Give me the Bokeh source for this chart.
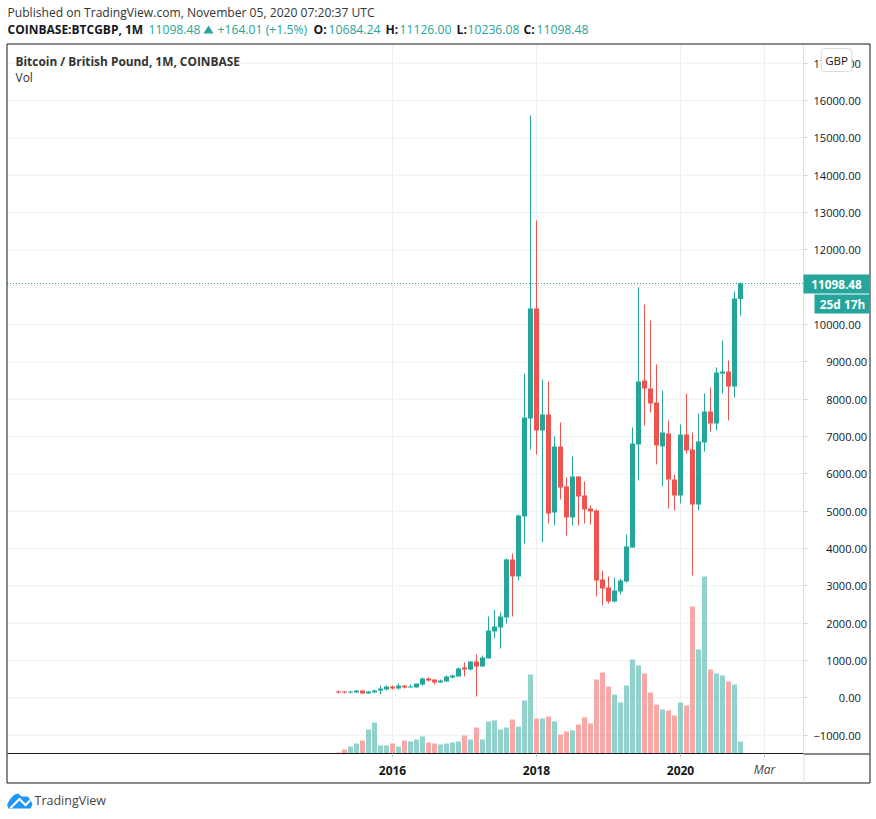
from bokeh.embed import file_html
from bokeh.resources import INLINE
from bokeh.plotting import figure
from bokeh.models import (ColumnDataSource, FixedTicker, Label, BoxAnnotation,
                          PolyAnnotation, LinearAxis, Range1d)

months = ["2015-04","2015-05","2015-06","2015-07","2015-08","2015-09","2015-10","2015-11","2015-12",
          "2016-01","2016-02","2016-03","2016-04","2016-05","2016-06","2016-07","2016-08","2016-09","2016-10","2016-11","2016-12",
          "2017-01","2017-02","2017-03","2017-04","2017-05","2017-06","2017-07","2017-08","2017-09","2017-10","2017-11","2017-12",
          "2018-01","2018-02","2018-03","2018-04","2018-05","2018-06","2018-07","2018-08","2018-09","2018-10","2018-11","2018-12",
          "2019-01","2019-02","2019-03","2019-04","2019-05","2019-06","2019-07","2019-08","2019-09","2019-10","2019-11","2019-12",
          "2020-01","2020-02","2020-03","2020-04","2020-05","2020-06","2020-07","2020-08","2020-09","2020-10","2020-11"]
opens = [169,169,142,142,195,115,142,195,222,
         303,249,329,276,276,356,517,490,410,436,544,570,
         812,758,972,838,1053,1776,1883,2151,3705,3250,4857,7482,
         10430,7161,7590,4964,6732,5661,4830,5929,5420,5071,5018,3169,
         2954,2579,2847,3115,4026,6786,8500,8286,7911,6732,7080,5848,
         5419,7053,6652,5178,6839,7670,7348,8687,8741,8339,10684]
highs = [195,178,178,195,195,178,222,329,329,
         329,383,329,356,383,544,544,490,490,597,624,812,
         946,972,1160,1133,2178,2365,2285,3732,3866,4911,8688,15600,
         12787,8527,8474,7000,7375,5902,6464,5929,5795,5152,5045,3410,
         3249,3222,3195,4374,7241,10992,10536,10107,8929,8232,7428,5982,
         7321,8152,7107,7616,8152,8313,8848,9572,9036,10884,11126]
lows = [115,115,115,142,115,115,142,88,195,
        222,222,249,276,276,329,436,356,410,436,517,570,
        570,731,35,838,1053,1589,1321,1990,2178,3142,4134,6652,
        6518,4160,4670,4616,5313,4348,4616,4616,4670,4643,2713,2472,
        2526,2552,2767,3088,4026,5821,7295,7643,6250,5660,5071,5017,
        5205,6544,3276,5017,6598,7134,7161,8152,7428,8045,10236]
closes = [142,142,169,195,115,169,195,249,303,
          249,329,276,303,383,517,463,410,463,570,597,785,
          758,972,838,1080,1803,1910,2178,3705,3250,4884,7509,10430,
          7161,7590,4937,6732,5634,4830,5929,5393,5044,4991,3142,2928,
          2579,2874,3142,4053,6812,8473,8286,7884,6759,7107,5848,5419,
          7053,6625,5178,6866,7670,7348,8714,8741,8339,10697,11098.48]
volumes = [100,400,700,1000,1300,2400,3100,800,800,
           1000,700,1300,1200,1400,1700,1100,1000,900,1000,1100,1200,
           1800,1400,2600,1400,3200,3300,2400,2600,3400,2700,5300,7900,
           3500,3500,3700,3200,1900,2200,2300,2900,3600,3000,7400,8100,
           6700,5900,5100,6800,9400,8800,8000,6100,4900,4400,4300,3800,
           5100,4800,14700,10400,17700,8400,8000,7800,7200,6900,1200]
price_ticks = [-1000,0,1000,2000,3000,4000,5000,6000,7000,8000,9000,10000,11000,12000,13000,14000,15000,16000,17000]
price_labels = ["\u22121000.00","\u2007\u2007\u2007\u20070.00","\u2007\u20071000.00","\u2007\u20072000.00","\u2007\u20073000.00",
                "\u2007\u20074000.00","\u2007\u20075000.00","\u2007\u20076000.00","\u2007\u20077000.00","\u2007\u20078000.00",
                "\u2007\u20079000.00","10000.00","11000.00","12000.00","13000.00","14000.00","15000.00","16000.00","17000.00"]
time_ticks = [0, 24, 48, 62]
time_labels = ["2016", "2018", "2020", " "]

UP = "#26a69a"
DOWN = "#ef5350"
INK = "#131722"
GRID = "#f0f0f0"
FONT = "Open Sans"

# visible price pane, in data units of the two scales
PANE_X = (-64.25, 68.5)
PANE_Y = (-1505, 17502)

idx = [(int(m[:4]) - 2016) * 12 + int(m[5:]) - 1 for m in months]
up = [c >= o for o, c in zip(opens, closes)]
src = ColumnDataSource(dict(x=idx, o=opens, h=highs, l=lows, c=closes, v=volumes,
                            bottom=[min(a, b) for a, b in zip(opens, closes)],
                            top=[max(a, b) for a, b in zip(opens, closes)],
                            color=[UP if u else DOWN for u in up]))

p = figure(width=872, height=811, x_axis_type=None, y_axis_type=None,
           x_range=Range1d(-392.0 / 6, (872 - 392.0) / 6),
           y_range=Range1d((697.3 - 811) * 26.788, 697.3 * 26.788),
           output_backend="svg", toolbar_location=None,
           min_border_left=0, min_border_right=0, min_border_top=0, min_border_bottom=0)
p.styles = {"position": "absolute", "left": "0px", "top": "0px"}
p.outline_line_color = None
p.extra_y_ranges = {"vol": Range1d(-5800, 75300)}

xa = LinearAxis(ticker=FixedTicker(ticks=time_ticks), fixed_location=PANE_Y[0], bounds=PANE_X)
xa.major_label_overrides = dict(zip(time_ticks, time_labels))
xa.major_tick_out = 4
xa.major_tick_in = 0
xa.minor_tick_line_color = None
xa.axis_line_color = INK
xa.major_tick_line_color = "#c8c8c8"
xa.major_label_text_font = FONT
xa.major_label_text_font_size = "12px"
xa.major_label_text_font_style = "bold"
xa.major_label_text_color = INK
xa.major_label_standoff = 4
p.add_layout(xa, "below")

ya = LinearAxis(ticker=FixedTicker(ticks=price_ticks), fixed_location=PANE_X[1], bounds=PANE_Y)
ya.major_label_overrides = dict(zip(price_ticks, price_labels))
ya.major_tick_out = 4
ya.major_tick_in = 0
ya.minor_tick_line_color = None
ya.axis_line_color = "#e0e0e0"
ya.major_tick_line_color = "#d0d0d0"
ya.major_label_text_font = FONT
ya.major_label_text_font_size = "11.1px"
ya.major_label_text_color = INK
ya.major_label_standoff = 6
p.add_layout(ya, "right")

# grid
p.segment(x0=[PANE_X[0]] * len(price_ticks), x1=[PANE_X[1]] * len(price_ticks), y0=price_ticks, y1=price_ticks,
          line_color=GRID, line_width=1, level="underlay")
p.segment(x0=time_ticks, x1=time_ticks, y0=[PANE_Y[0]] * len(time_ticks), y1=[PANE_Y[1]] * len(time_ticks),
          line_color=GRID, line_width=1, level="underlay")

# volume
p.vbar(x="x", width=5 / 6, bottom=0, top="v", color="color", fill_alpha=0.5, line_color=None,
       source=src, y_range_name="vol")
# candles
p.segment(x0="x", x1="x", y0="l", y1="h", line_color="color", line_width=1, source=src)
p.vbar(x="x", width=5 / 6, bottom="bottom", top="top", fill_color="color", line_color=None, source=src)

# last price line
last_line = p.segment(x0=[PANE_X[0]], x1=[PANE_X[1]], y0=[closes[-1]], y1=[closes[-1]],
                      line_color=UP, line_width=1)
last_line.glyph.line_dash = [1, 2]


def box(l, r, t, b, fill=None, line=None):
    p.add_layout(BoxAnnotation(left=l, right=r, top=t, bottom=b,
                               left_units="canvas", right_units="canvas", top_units="canvas", bottom_units="canvas",
                               fill_color=fill, fill_alpha=1 if fill else 0,
                               line_color=line, line_width=1, line_alpha=1 if line else 0))


def text(x, y, s, color=INK, size="12.2px", style="normal", align="left", font=FONT):
    lab = Label(x=x, y=y, x_units="canvas", y_units="canvas", text=s, text_color=color, text_font=font,
                text_font_size=size, text_font_style=style, text_align=align, text_baseline="middle")
    p.add_layout(lab)
    return lab


def poly(xs, ys, fill):
    p.add_layout(PolyAnnotation(xs=xs, ys=ys, xs_units="canvas", ys_units="canvas",
                                fill_color=fill, fill_alpha=1, line_color=None))


# outer frame and axis continuations
box(6.5, 869.5, 43.5, 782.5, line=INK)
box(803, 869, 753, 754, fill=INK)
box(803, 804, 754, 782, fill="#e0e0e0")

# header
text(7, 11.5, "Published on TradingView.com, November 05, 2020 07:20:37 UTC", size="12.1px", color="#333333")
text(7, 28.5, "COINBASE:BTCGBP, 1M", style="bold", size="12px", color=INK)
text(148, 28.5, "11098.48", color=UP)
poly([203, 213, 208], [33, 33, 25], UP)
text(217, 28.5, "+164.01 (+1.5%)", color=UP)
text(313, 28.5, "O:", style="bold", color=INK)
text(328, 28.5, "10684.24", color=UP)
text(385, 28.5, "H:", style="bold", color=INK)
text(399, 28.5, "11126.00", color=UP)
text(456, 28.5, "L:", style="bold", color=INK)
text(467, 28.5, "10236.08", color=UP)
text(523, 28.5, "C:", style="bold", color=INK)
text(536, 28.5, "11098.48", color=UP)

# pane legend
text(15, 60, "Bitcoin / British Pound, 1M, COINBASE", style="bold", size="11.9px", color="#333333")
text(15, 77, "Vol", size="12px", color="#333333")

# currency badge
badge = Label(x=836, y=59.5, x_units="canvas", y_units="canvas", text="GBP", text_color=INK, text_font=FONT,
              text_font_size="11.5px", text_align="center", text_baseline="middle",
              background_fill_color="white", border_line_color="#dcdcdc", border_line_width=1,
              padding=4, border_radius=4)
p.add_layout(badge)

# last price tags
box(803, 869, 274, 293, fill=UP)
box(814, 869, 294, 313, fill=UP)
text(836, 283.5, "11098.48", color="white", style="bold", size="11.8px", align="center")
text(842, 303.5, "25d 17h", color="white", style="bold", size="11.8px", align="center")

# Mar label
text(764, 769, "Mar", color="#444444", style="italic", size="12px", align="center")

# footer logo + text
poly([6.5, 10, 14, 18, 21, 24, 27, 30, 32, 30, 8],
     [804, 798, 794, 793, 796, 796, 796, 799, 804, 808, 808], "#2196f3")
poly([9, 19, 25, 30, 30, 25, 19, 11], [807, 797, 803, 798, 801, 806, 800, 808], "white")
text(34, 800, "TradingView", color="#444444", size="12.5px")

open("out.html", "w").write(file_html(p, INLINE))
